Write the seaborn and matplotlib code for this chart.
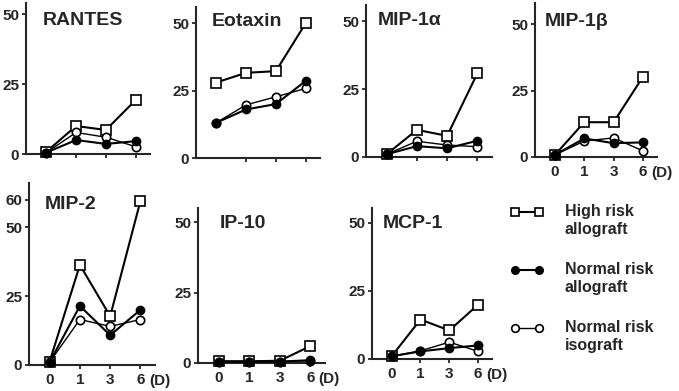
import numpy as np
import pandas as pd
import matplotlib
matplotlib.use("Agg")
import matplotlib.pyplot as plt
import matplotlib.transforms as mtransforms
import seaborn as sns

# chemokine levels over days after transplant
days = [0, 1, 3, 6]
panels = ["RANTES", "Eotaxin", "MIP-1α", "MIP-1β", "MIP-2", "IP-10", "MCP-1"]
high_risk_allo = [
    [0.8, 10, 8.6, 19.3],
    [28, 31.6, 32.2, 50],
    [1, 10, 7.8, 30.9],
    [0.8, 13.1, 13.1, 30.2],
    [1.2, 36.3, 17.7, 59.5],
    [0.6, 0.6, 0.8, 6],
    [1, 14.5, 10.5, 20],
]
normal_risk_allo = [
    [0.5, 5, 3.6, 4.6],
    [13.1, 18, 20, 28.6],
    [1, 4, 3.2, 6],
    [0.8, 7, 5.2, 5.5],
    [1, 21.4, 10.8, 20],
    [0.5, 0.5, 0.5, 1],
    [1, 2.8, 4, 5],
]
normal_risk_iso = [
    [0.5, 7.7, 6, 2.6],
    [13.1, 19.7, 22.7, 25.8],
    [1, 5.8, 4.4, 3.8],
    [0.8, 6, 7.2, 2.3],
    [1, 16.5, 14, 16.5],
    [0.5, 0.5, 0.5, 0.8],
    [1, 3, 6.2, 2.8],
]
groups = ["High risk\nallograft", "Normal risk\nallograft", "Normal risk\nisograft"]

rows = []
for p, name in enumerate(panels):
    for g, series in zip(groups, [high_risk_allo, normal_risk_allo, normal_risk_iso]):
        for d, v in zip(days, series[p]):
            rows.append({"panel": name, "group": g, "day": d, "value": v})
df = pd.DataFrame(rows)
df["pos"] = df["day"].map({d: i for i, d in enumerate(days)})

sns.set_style("ticks")
plt.rcParams["font.family"] = ["Liberation Sans", "DejaVu Sans"]
plt.rcParams["font.weight"] = "bold"

W, H = 679, 391
fig = plt.figure(figsize=(W / 100, H / 100), dpi=100)

# axes boxes in pixels: left, right, zero line, top, ymax
boxes = [
    (26, 150, 154, 3, 54),
    (196, 320, 158, 7, 56),
    (366, 492, 157, 5, 56),
    (535, 657, 157, 3, 58),
    (29, 155, 365, 183, 66),
    (198, 325, 363, 208, 55),
    (372, 492, 359, 208, 55.5),
]
title_pos = [(0.137, 0.887), (0.13, 0.907), (0.095, 0.90), (0.08, 0.88),
             (0.127, 0.88), (0.17, 0.90), (0.09, 0.90)]
show_xlabels = [False, False, False, True, True, True, True]

styles = {
    groups[0]: dict(marker="s", mfc="white", mec="black", ms=6.5, lw=1.5, mew=1.2),
    groups[2]: dict(marker="o", mfc="white", mec="black", ms=6, lw=1.0, mew=1.2),
    groups[1]: dict(marker="o", mfc="black", mec="black", ms=6, lw=1.5, mew=1.0),
}

for i, name in enumerate(panels):
    l, r, y0, top, ymax = boxes[i]
    ax = fig.add_axes([l / W, 1 - y0 / H, (r - l) / W, (y0 - top) / H])
    sub = df[df["panel"] == name]
    for g in [groups[0], groups[2], groups[1]]:
        d = sub[sub["group"] == g]
        sns.lineplot(data=d, x="pos", y="value", color="black", ax=ax,
                     clip_on=False, zorder=3, **styles[g])
    ax.set_xlim(-0.68, 3.48)
    ax.set_ylim(0, ymax)
    ax.set_yticks([0, 25, 50, 60] if name == "MIP-2" else [0, 25, 50])
    ax.set_xticks(range(len(days)))
    ax.xaxis.get_major_ticks()[0].tick1line.set_visible(False)
    if show_xlabels[i]:
        ax.set_xticklabels([str(d) for d in days])
        ax.annotate("(D)", xy=(3, 0), xycoords=("data", "axes fraction"),
                    xytext=(6, -11.5), textcoords="offset points",
                    ha="left", va="center", fontsize=11, fontweight="bold")
    else:
        ax.set_xticklabels([])
    ax.set_xlabel("")
    ax.set_ylabel("")
    ax.tick_params(axis="both", length=3, width=1.3, labelsize=11, pad=2)
    ax.tick_params(axis="x", pad=3)
    for s in ["left", "bottom"]:
        ax.spines[s].set_linewidth(1.5)
    sns.despine(ax=ax)
    ax.text(title_pos[i][0], title_pos[i][1], name, transform=ax.transAxes,
            ha="left", va="center", fontsize=14, fontweight="bold")
    if i == 0:
        leg_ax = ax

# legend built from the first panel's lines
lines = leg_ax.get_lines()
order = [lines[0], lines[2], lines[1]]
leg = fig.legend(order, groups, loc="upper left", bbox_to_anchor=(496 / W, 1 - 190 / H),
                 frameon=False, handlelength=2.1, handletextpad=1.3, numpoints=2,
                 labelspacing=1.6, prop={"size": 11.5, "weight": "bold"})
# line the sample up with the first line of each label
for h in leg.legend_handles:
    h.set_transform(h.get_transform() + mtransforms.Affine2D().translate(0, 9))
    h.set_markersize(5.5)

fig.savefig("out.png", dpi=100)
